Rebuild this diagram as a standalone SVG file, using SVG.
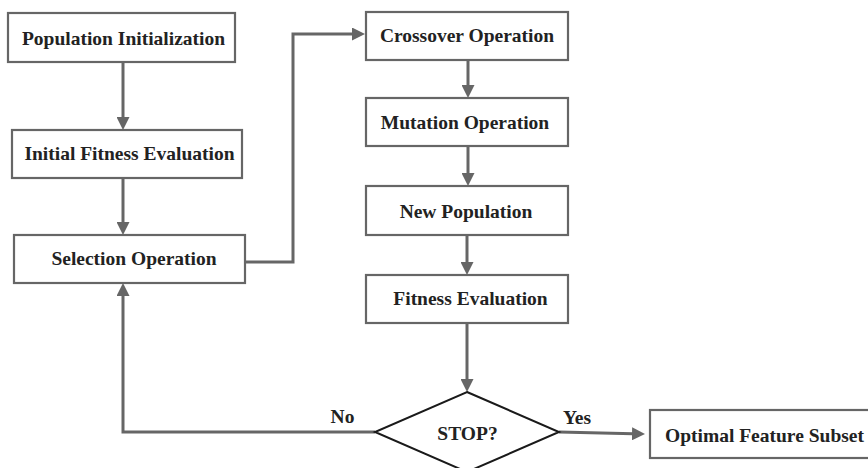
<svg xmlns="http://www.w3.org/2000/svg" width="868" height="468" viewBox="0 0 868 468">
<style>
.box{fill:#fff;stroke:#666;stroke-width:2.2}
.dia{fill:#fff;stroke:#1a1a1a;stroke-width:2}
.lbl{font-family:"Liberation Serif","Times New Roman",serif;font-weight:bold;font-size:19.5px;fill:#222;text-anchor:middle}
.con{fill:none;stroke:#666;stroke-width:3}
</style>
<defs>
<marker id="ah" viewBox="0 0 13 13" refX="1" refY="6.5" markerWidth="13" markerHeight="13" markerUnits="userSpaceOnUse" orient="auto">
<path d="M0,0 L13,6.5 L0,13 z" fill="#666"/>
</marker>
</defs>
<rect width="868" height="468" fill="#fff"/>
<g id="connectors">
<path class="con" d="M123,62 V118" marker-end="url(#ah)"/>
<path class="con" d="M123,178 V223" marker-end="url(#ah)"/>
<path class="con" d="M245,262 H293 V34 H353" marker-end="url(#ah)"/>
<path class="con" d="M468,60 V86" marker-end="url(#ah)"/>
<path class="con" d="M468,146 V174" marker-end="url(#ah)"/>
<path class="con" d="M467,235 V263" marker-end="url(#ah)"/>
<path class="con" d="M467,323 V380" marker-end="url(#ah)"/>
<path class="con" d="M375,432 H123 V295" marker-end="url(#ah)"/>
<path class="con" d="M559,432 L633,433.8" marker-end="url(#ah)"/>
</g>
<g id="pop-init"><rect class="box" x="8" y="13" width="227" height="49"/><text class="lbl" x="123.5" y="45">Population Initialization</text></g>
<g id="init-fitness"><rect class="box" x="12" y="130" width="230" height="48"/><text class="lbl" x="129.5" y="160">Initial Fitness Evaluation</text></g>
<g id="selection"><rect class="box" x="14" y="235" width="231" height="48"/><text class="lbl" x="134" y="265">Selection Operation</text></g>
<g id="crossover"><rect class="box" x="366" y="12" width="202" height="48"/><text class="lbl" x="467" y="42">Crossover Operation</text></g>
<g id="mutation"><rect class="box" x="366" y="98" width="202" height="48"/><text class="lbl" x="465" y="129">Mutation Operation</text></g>
<g id="new-pop"><rect class="box" x="366" y="186" width="202" height="49"/><text class="lbl" x="466" y="218">New Population</text></g>
<g id="fitness"><rect class="box" x="366" y="275" width="202" height="48"/><text class="lbl" x="470.5" y="305">Fitness Evaluation</text></g>
<g id="stop"><polygon class="dia" points="467,392 559,432 467,472 375,432"/><text class="lbl" x="467.5" y="440">STOP?</text></g>
<g id="labels"><text class="lbl" x="342.5" y="423">No</text><text class="lbl" x="577" y="424">Yes</text></g>
<g id="optimal"><rect class="box" x="650" y="410" width="230" height="48"/><text class="lbl" x="764.5" y="442">Optimal Feature Subset</text></g>
</svg>
